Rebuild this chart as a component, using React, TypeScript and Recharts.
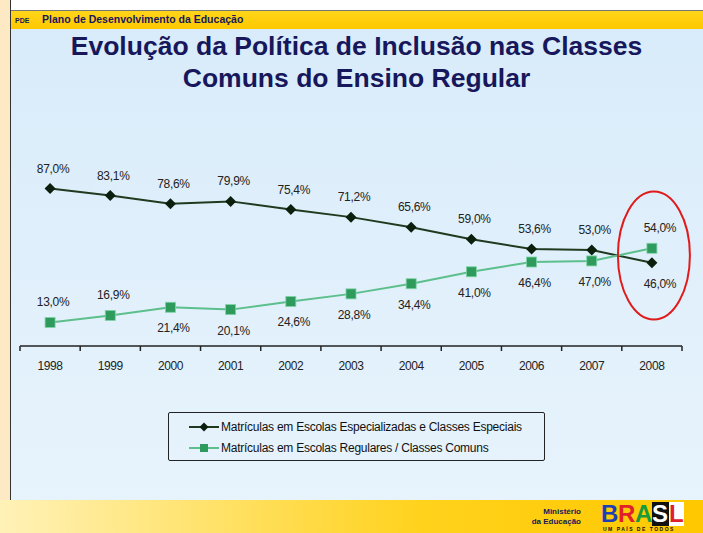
import { LineChart, Line, XAxis, YAxis, LabelList, ReferenceDot } from "recharts"

// chart values
const years = ["1998", "1999", "2000", "2001", "2002", "2003", "2004", "2005", "2006", "2007", "2008"]
const especiais = [87.0, 83.1, 78.6, 79.9, 75.4, 71.2, 65.6, 59.0, 53.6, 53.0, 46.0]
const comuns = [13.0, 16.9, 21.4, 20.1, 24.6, 28.8, 34.4, 41.0, 46.4, 47.0, 54.0]
// label placement (true = above the point)
const especiaisAbove = [true, true, true, true, true, true, true, true, true, true, false]
const comunsAbove = [true, true, false, false, false, false, false, false, false, false, true]

const seriesNames = [
  "Matrículas em Escolas Especializadas e Classes Especiais",
  "Matrículas em Escolas Regulares / Classes Comuns",
]

const chartData = years.map((y, i) => ({
  idx: i,
  year: y,
  especiais: especiais[i],
  comuns: comuns[i],
}))

const xTicks = [-0.5, 0, 0.5, 1, 1.5, 2, 2.5, 3, 3.5, 4, 4.5, 5, 5.5, 6, 6.5, 7, 7.5, 8, 8.5, 9, 9.5, 10, 10.5]

const NAVY = "#17175c"
const DARK = "#1f3a1f"
const LIGHT = "#5cbf8c"
const SQUARE = "#2e9a5c"
const sans = "'Liberation Sans', Arial, sans-serif"

const fmt = (v: number) => v.toFixed(1).replace(".", ",") + "%"

function XTick(props: any) {
  const { x, y, payload } = props
  const v = payload.value
  if (!Number.isInteger(v)) {
    return <line x1={x} y1={y} x2={x} y2={y + 5} stroke="#222" strokeWidth={1.5} />
  }
  return (
    <text x={x} y={y + 20} textAnchor="middle" dominantBaseline="central" fontSize={12} fontFamily={sans} fill="#222" letterSpacing={-0.4}>
      {years[v]}
    </text>
  )
}

const makeLabel = (above: boolean[]) => (props: any) => {
  const { x, y, value, index } = props
  const up = above[index]
  const dx = index === 10 ? 8 : 3
  return (
    <text x={x + dx} y={up ? y - 20 : y + 21} textAnchor="middle" dominantBaseline="central" fontSize={12} fontFamily={sans} fill="#222" letterSpacing={-0.3}>
      {fmt(value)}
    </text>
  )
}

const Diamond = (props: any) => {
  const { cx, cy } = props
  if (cx == null || cy == null) return null
  return <polygon points={`${cx},${cy - 5.5} ${cx + 5.5},${cy} ${cx},${cy + 5.5} ${cx - 5.5},${cy}`} fill="#0c1f0c" />
}

const Square = (props: any) => {
  const { cx, cy } = props
  if (cx == null || cy == null) return null
  return <rect x={cx - 5} y={cy - 5} width={10} height={10} fill={SQUARE} stroke="#7fd3a5" strokeWidth={0.8} />
}

const Ellipse = (props: any) => {
  const { cx, cy } = props
  return <ellipse cx={cx + 2} cy={cy} rx={36} ry={64} fill="none" stroke="#e01b1b" strokeWidth={2} />
}

export default function App() {
  return (
    <div style={{ position: "absolute", left: 0, top: 0, width: 703, height: 533, overflow: "hidden", background: "linear-gradient(#d8ebfa, #e8f4fc)", fontFamily: sans }}>
      {/* left strip and top strip */}
      <div style={{ position: "absolute", left: 0, top: 0, width: 10, height: 500, background: "#fde9c4", borderRight: "1px solid #333" }} />
      <div style={{ position: "absolute", left: 11, top: 0, right: 0, height: 10, background: "#fff", borderBottom: "1px solid #777" }} />
      {/* header bar */}
      <div style={{ position: "absolute", left: 11, top: 11, right: 0, height: 18, background: "linear-gradient(#ffd51a, #ffc800)" }}>
        <span style={{ position: "absolute", left: 4, top: 6, fontSize: 7, fontWeight: "bold", color: NAVY }}>PDE</span>
        <span style={{ position: "absolute", left: 31, top: 2, fontSize: 10.5, fontWeight: "bold", color: NAVY }}>Plano de Desenvolvimento da Educação</span>
      </div>
      {/* title */}
      <div style={{ position: "absolute", left: 10, width: 693, top: 30, textAlign: "center", fontSize: 26.5, fontWeight: "bold", color: NAVY, lineHeight: "32px" }}>
        Evolução da Política de Inclusão nas Classes
        <br />
        Comuns do Ensino Regular
      </div>

      <div style={{ position: "absolute", left: 0, top: 140 }}>
        <LineChart width={703} height={260} data={chartData} margin={{ top: 25, right: 21, left: 20, bottom: 0 }}>
          <XAxis
            dataKey="idx"
            type="number"
            domain={[-0.5, 10.5]}
            ticks={xTicks}
            interval={0}
            height={54}
            tickLine={false}
            tickSize={0}
            tickMargin={0}
            axisLine={{ stroke: "#222", strokeWidth: 1.5 }}
            tick={<XTick />}
          />
          <YAxis hide domain={[0, 100]} />
          <Line
            dataKey="especiais"
            stroke={DARK}
            strokeWidth={2}
            dot={<Diamond />}
            activeDot={false}
            isAnimationActive={false}
          >
            <LabelList dataKey="especiais" content={makeLabel(especiaisAbove)} />
          </Line>
          <Line
            dataKey="comuns"
            stroke={LIGHT}
            strokeWidth={2}
            dot={<Square />}
            activeDot={false}
            isAnimationActive={false}
          >
            <LabelList dataKey="comuns" content={makeLabel(comunsAbove)} />
          </Line>
          <ReferenceDot x={10} y={50} shape={<Ellipse />} />
        </LineChart>
      </div>

      {/* legend */}
      <div style={{ position: "absolute", left: 168, top: 412, width: 377, height: 49, border: "1.5px solid #222", borderRadius: 2, boxSizing: "border-box", fontSize: 12, color: "#111", letterSpacing: -0.25 }}>
        {seriesNames.map((name, i) => (
          <div key={name} style={{ position: "absolute", left: 20, top: 6 + i * 21, height: 16, display: "flex", alignItems: "center" }}>
            <svg width={30} height={14} style={{ marginRight: 2 }}>
              <line x1={0} y1={7} x2={30} y2={7} stroke={i === 0 ? DARK : LIGHT} strokeWidth={2} />
              {i === 0 ? (
                <polygon points="15,2.5 19.5,7 15,11.5 10.5,7" fill="#0c1f0c" />
              ) : (
                <rect x={11} y={3} width={8} height={8} fill={SQUARE} />
              )}
            </svg>
            <span style={{ whiteSpace: "nowrap" }}>{name}</span>
          </div>
        ))}
      </div>

      {/* footer */}
      <div style={{ position: "absolute", left: 0, top: 500, width: 703, height: 33, background: "linear-gradient(90deg, #fff2b8, #ffd21c 60%, #ffc800)" }}>
        <div style={{ position: "absolute", left: 515, top: 7, fontSize: 8, fontWeight: "bold", color: NAVY, lineHeight: "10px", textAlign: "right", width: 66, whiteSpace: "nowrap" }}>
          Ministério
          <br />
          da Educação
        </div>
        <div style={{ position: "absolute", left: 601, top: 2, display: "flex", fontSize: 24, fontWeight: "bold", lineHeight: "24px" }}>
          <span style={{ color: "#1e3fb4", width: 17 }}>B</span>
          <span style={{ color: "#e0202a", width: 17 }}>R</span>
          <span style={{ color: "#1a9a3a", width: 17 }}>A</span>
          <span style={{ color: "#fff", background: "#111", width: 17 }}>S</span>
          <span style={{ color: "#e0202a", background: "#fff", width: 15 }}>L</span>
        </div>
        <div style={{ position: "absolute", left: 603, top: 26, fontSize: 5, fontWeight: "bold", color: "#111", letterSpacing: 1.5 }}>UM PAÍS DE TODOS</div>
      </div>
    </div>
  )
}
